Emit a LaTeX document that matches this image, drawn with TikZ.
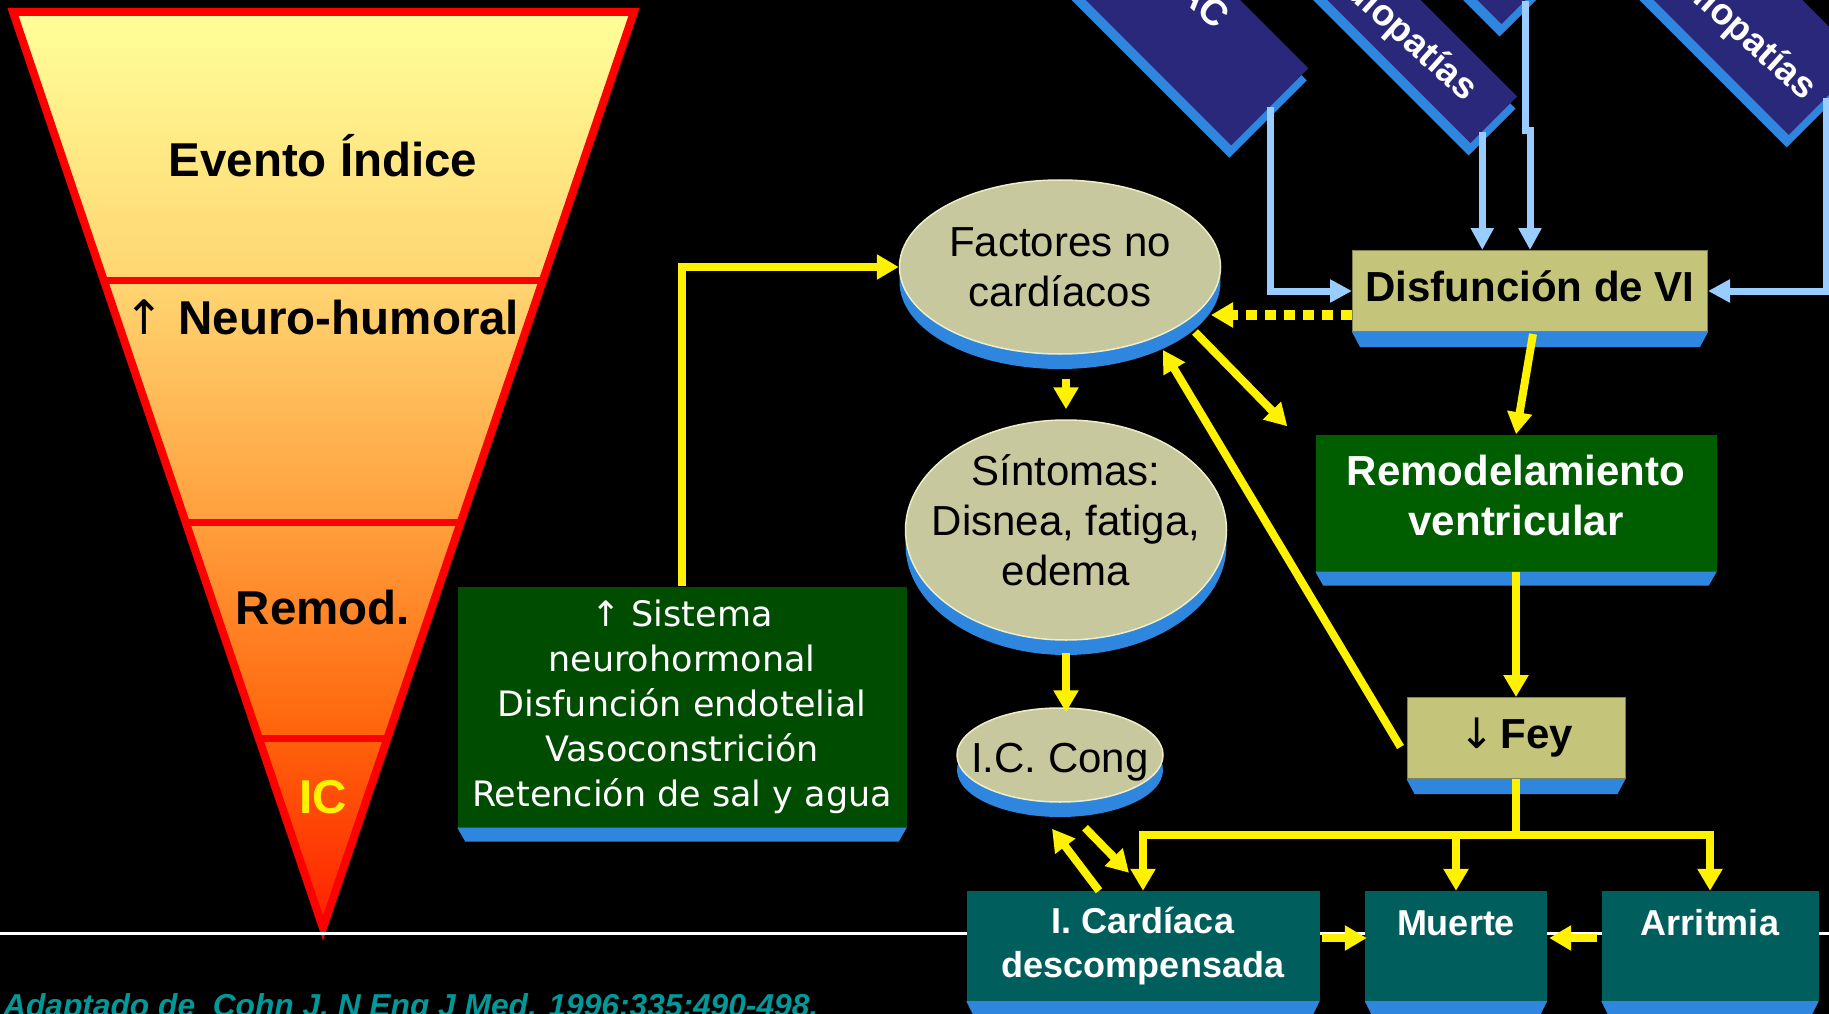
\documentclass[tikz,border=0pt]{standalone}
\usepackage{fontspec}
\setmainfont{Liberation Sans}
\newfontfamily\symfont{DejaVu Sans}
\usepackage{tikz}
\usetikzlibrary{shapes.geometric,arrows.meta,calc,shadows}

\definecolor{ftop}{RGB}{255,255,153}
\definecolor{flight}{RGB}{255,212,112}
\definecolor{fmid}{RGB}{255,158,60}
\definecolor{forange}{RGB}{255,102,12}
\definecolor{fred}{RGB}{255,32,0}
\definecolor{khakifill}{RGB}{196,196,122}
\definecolor{khakiedge}{RGB}{128,128,80}
\definecolor{diskfill}{RGB}{200,200,158}
\definecolor{diskedge}{RGB}{238,238,200}
\definecolor{bevelblue}{RGB}{46,134,222}
\definecolor{sistgreen}{RGB}{0,76,0}
\definecolor{remodgreen}{RGB}{0,94,0}
\definecolor{tealfill}{RGB}{0,95,92}
\definecolor{navy}{RGB}{42,40,122}
\definecolor{skyline}{RGB}{153,204,255}
\definecolor{citeteal}{RGB}{0,153,153}

\pgfdeclarelayer{bg}
\pgfsetlayers{bg,main}

\pgfdeclareverticalshading{funnelshade}{100bp}{color(0bp)=(fred); color(25bp)=(fred); color(36bp)=(forange); color(47bp)=(fmid); color(60bp)=(flight); color(75bp)=(ftop); color(100bp)=(ftop)}

\tikzstyle{funneltext} = [font=\bfseries\fontsize{47.5}{57}\selectfont, text=black, inner sep=0pt]
\tikzstyle{khakibox} = [rectangle, draw=khakiedge, line width=1pt, fill=khakifill,
    inner sep=2pt, font=\bfseries\fontsize{42}{50}\selectfont]
\tikzstyle{greenbox} = [rectangle, text=white, align=center, inner sep=2pt]
\tikzstyle{tealbox} = [rectangle, fill=tealfill, text=white, align=center, inner xsep=2pt,
    inner ysep=0pt, minimum height=110pt, font=\bfseries\fontsize{36}{44}\selectfont]
\tikzstyle{disk} = [ellipse, fill=diskfill, draw=diskedge, line width=1.5pt, inner xsep=-30pt,
    inner ysep=0pt, align=center, font=\fontsize{42}{50}\selectfont,
    drop shadow={shadow xshift=0pt, shadow yshift=-15pt, opacity=1, fill=bevelblue}]
\tikzstyle{banner} = [rectangle, fill=navy, rotate=-45, inner sep=0pt, minimum width=300pt]
\tikzstyle{bantext} = [text=white, rotate=-42, inner sep=0pt, font=\bfseries\fontsize{37}{40}\selectfont]
\tikzstyle{yline} = [draw=yellow, line width=8pt, -{Triangle[width=24pt,length=22pt]}]
\tikzstyle{dotline} = [yline, line width=10pt, dash pattern=on 11pt off 8pt]
\tikzstyle{bline} = [draw=skyline, line width=7pt, -{Triangle[width=22pt,length=22pt]}]

\newcommand{\boxbevel}[2]{\fill[bevelblue] (#1.south west) -- (#1.south east)
    -- ([shift={(-8,#2)}]#1.south east) -- ([shift={(8,#2)}]#1.south west) -- cycle;}
\newcommand{\txtstack}[1]{\begin{tabular}{@{}c@{}}#1\end{tabular}}

\begin{document}
\begin{tikzpicture}[x=1pt, y=-1pt]
  \useasboundingbox (0,0) rectangle (1829,1014);
  \begin{pgfonlayer}{bg}
    \fill[black] (0,0) rectangle (1829,1014);
  \end{pgfonlayer}
  % Funnel
  \shade[shading=funnelshade] (13,12) -- (634,12) -- (323,928) -- cycle;
  \draw[red, line width=8pt] (13,12) -- (634,12) -- (323,928) -- cycle;
  \foreach \yy in {280,522,738}
    \draw[red, line width=7pt] ({13+(\yy-12)/916*310},\yy) -- ({634-(\yy-12)/916*311},\yy);
  \draw[white, line width=3pt] (0,933) -- (1829,933);
  \node[funneltext, anchor=base] (evento) at (323,177) {Evento Índice};
  \node[funneltext, anchor=base] (neuro) at (322,334) {{\symfont\mdseries ↑}\hspace{14pt}Neuro-humoral};
  \node[funneltext, anchor=base] (remodf) at (323,624) {Remod.};
  \node[funneltext, anchor=base, text=yellow] (icf) at (323,813) {IC};

  % Banners
  \node[banner, minimum height=109pt, anchor=east] (ban1) at (1270,107) {};
  \node[banner, minimum height=66pt, anchor=east] (ban2) at (1494,120) {};
  \node[banner, minimum height=66pt, anchor=east] (ban3) at (1525,1) {};
  \node[banner, minimum height=105pt, anchor=east] (ban4) at (1826,98) {};
  \begin{pgfonlayer}{bg}
    \foreach \bn in {ban1,ban2,ban3,ban4}
      \fill[bevelblue] ([shift={(-2,12)}]\bn.north west) -- ([shift={(-2,12)}]\bn.north east)
        -- ([shift={(-2,12)}]\bn.south east) -- ([shift={(-2,12)}]\bn.south west) -- cycle;
  \end{pgfonlayer}
  \node[bantext, anchor=east] (ban1txt) at (1224,21) {EAC};
  \node[bantext, anchor=east] (ban2txt) at (1471,95) {Cardiopatías};
  \node[bantext, anchor=east] (ban4txt) at (1810,94) {Cardiopatías};

  % Place nodes
  \node[disk, minimum width=321pt, minimum height=174pt] (fact) at (1060,267) {Factores no\\cardíacos};
  \node[disk, minimum width=321pt, minimum height=220pt] (sint) at (1066,530)
    {\raisebox{5pt}[\height][\depth]{\txtstack{Síntomas:\\Disnea, fatiga,\\edema}}};
  \node[disk, minimum width=206pt, minimum height=94pt, text height=43pt, text depth=9pt]
    (iccong) at (1060,755) {I.C. Cong};
  \node[khakibox, minimum width=355pt, minimum height=81pt, text height=30pt, text depth=10pt]
    (disf) at (1530,291) {Disfunción de VI};
  \node[greenbox, fill=remodgreen, font=\bfseries\fontsize{42}{50}\selectfont,
    minimum width=401pt, minimum height=137pt] (remod) at (1516,503)
    {\raisebox{3pt}[\height][\depth]{\txtstack{Remodelamiento\\ventricular}}};
  \node[khakibox, minimum width=218pt, minimum height=81pt] (fey) at (1516,738) {{\symfont\mdseries ↓}\hspace{6pt}Fey};
  \node[greenbox, fill=sistgreen, font=\symfont\fontsize{35}{45}\selectfont,
    minimum width=449pt, minimum height=241pt] (sist) at (682,707)
    {↑ Sistema\\neurohormonal\\Disfunción endotelial\\Vasoconstrición\\Retención de sal y agua};
  \node[tealbox, minimum width=353pt] (icard) at (1143,946) {I. Cardíaca\\descompensada};
  \node[tealbox, minimum width=182pt, text height=44pt, text depth=66pt] (muerte) at (1456,946) {Muerte};
  \node[tealbox, minimum width=217pt, text height=44pt, text depth=66pt] (arrit) at (1710,946) {Arritmia};
  \boxbevel{disf}{15}
  \boxbevel{remod}{14}
  \boxbevel{fey}{15}
  \boxbevel{sist}{14}
  \boxbevel{icard}{16}
  \boxbevel{muerte}{16}
  \boxbevel{arrit}{16}

  \node[anchor=base west, inner sep=0pt, text=citeteal, font=\bfseries\itshape\fontsize{31.7}{36}\selectfont]
    (cite) at (3,1016) {Adaptado de\ \ Cohn J. N Eng J Med. 1996;335:490-498.};

  % Draw edges
  \coordinate (b2) at ($(ban2.south east)!0.25!(ban2.north east)$);
  \coordinate (b3) at ($(ban3.east)+(5,130)$);
  \path[bline] (ban1.east) |- (disf.west);
  \path[bline] (b2) -- (b2 |- disf.north);
  \path[bline] (ban3.east) |- (b3) -- (b3 |- disf.north);
  \path[bline] (ban4.east) |- (disf.east);

  \path[yline] (sist.north) |- (fact.west);
  \path[yline] ($(sint.north |- fact.south)+(0,24)$) -- ($(sint.north)+(0,-10)$);
  \path[yline] ($(sint.south)+(0,12)$) -- ($(sint.south |- iccong.north)+(0,5)$);
  \path[dotline] ($(disf.west)+(0,24)$) -- ($(fact.center)+(151,48)$);
  \path[yline] ($(fact.center)+(135,65)$) -- ($(remod.north west)+(-28,-8)$);
  \path[yline] ($(fey.west)+(-6,9)$) -- ($(fact.center)+(103,83)$);
  \path[yline] ($(disf.south)+(3,2)$) -- (remod.north);
  \path[yline] (remod.south) -- (fey.north);
  \coordinate (split) at ($(fey.south)+(0,56)$);
  \path[yline] (fey.south) -- (split) -| (icard.north);
  \path[yline] (split) -| (arrit.north);
  \path[yline] (split -| muerte.north) -- (muerte.north);
  \path[yline] ($(icard.east)+(2,-8)$) -- ($(muerte.west)+(2,-8)$);
  \path[yline] ($(arrit.west)+(-4,-8)$) -- ($(muerte.east)+(2,-8)$);
  \path[yline] ($(icard.north)+(-44,0)$) -- ($(iccong.south)+(-8,26)$);
  \path[yline] ($(iccong.south)+(25,25)$) -- ($(icard.north)+(-14,-18)$);
\end{tikzpicture}
\end{document}
